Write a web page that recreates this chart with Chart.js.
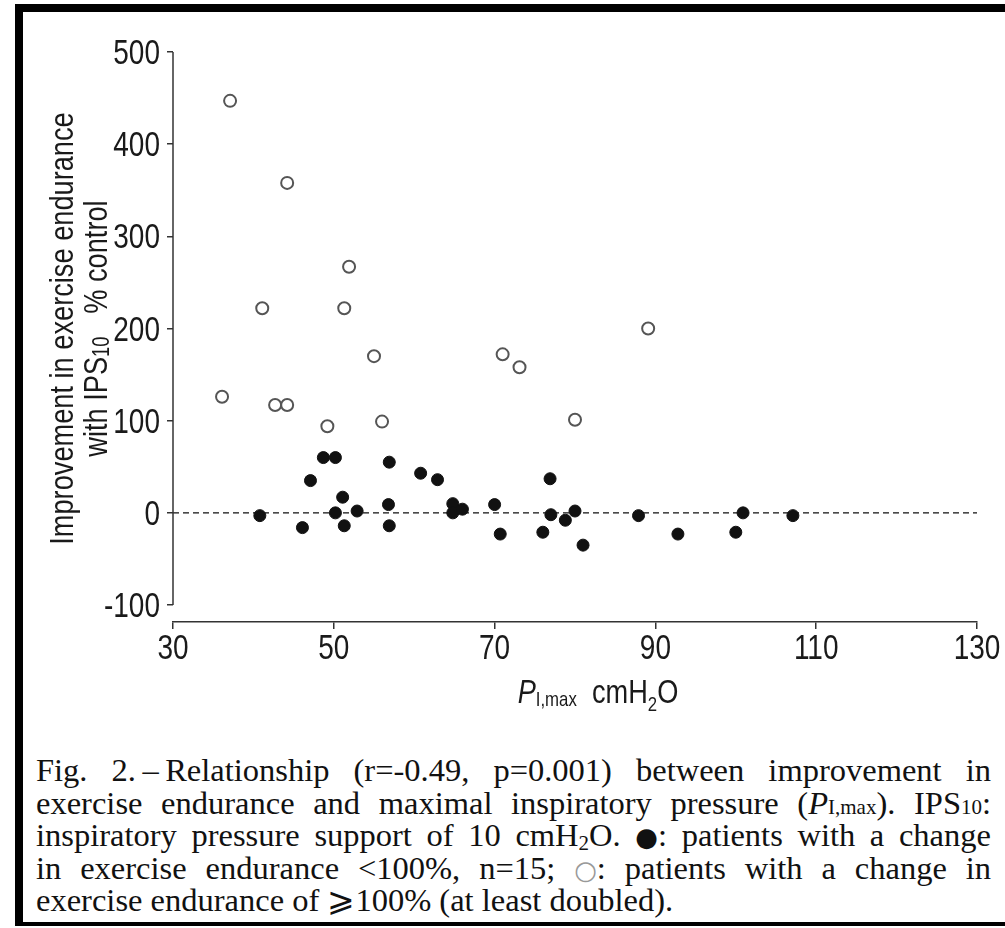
<!DOCTYPE html>
<html>
<head>
<meta charset="utf-8">
<script src="https://cdn.jsdelivr.net/npm/chart.js@4.4.0/dist/chart.umd.min.js"></script>
<style>
  html, body { margin: 0; padding: 0; background: #fff; }
  body { width: 1005px; height: 928px; position: relative; overflow: hidden; }
  .frame {
    position: absolute; left: 15px; top: 4px; width: 1000px; height: 922px;
    border-top: 8px solid #000; border-left: 8px solid #000; border-bottom: 4px solid #000;
    box-sizing: border-box;
  }
  #wrap { position: absolute; left: 0; top: 0; width: 1005px; height: 740px; }
  .caption {
    position: absolute; left: 36px; top: 754px; width: 955px;
    font-family: 'Liberation Serif', 'Times New Roman', serif;
    font-size: 32.5px; color: #111;
  }
  .caption div {
    height: 32.5px; line-height: 32.5px;
    text-align: justify; text-align-last: justify; white-space: nowrap;
  }
  .caption div.last { text-align-last: left; }
  .sm { font-size: 21px; }
  .sub { font-size: 21px; vertical-align: -4px; line-height: 0; }
  .sym { display: inline-block; line-height: 0; }
  .dot { font-family: 'DejaVu Sans', sans-serif; font-size: 26px; }
  .ring { font-family: 'DejaVu Sans', sans-serif; font-size: 26px; color: #999; }
</style>
</head>
<body>
<div class="frame"></div>
<div id="wrap"><canvas id="chart"></canvas></div>
<div class="caption">
  <div>Fig. 2.&thinsp;–&thinsp;Relationship (r=-0.49, p=0.001) between improvement in</div>
  <div>exercise endurance and maximal inspiratory pressure (<i>P</i><span class="sm">I,max</span>). IPS<span class="sm">10</span>:</div>
  <div>inspiratory pressure support of 10 cmH<span class="sub">2</span>O. <span class="sym"><span class="dot">●</span>:</span> patients with a change</div>
  <div>in exercise endurance &lt;100%, n=15; <span class="sym"><span class="ring">○</span>:</span> patients with a change in</div>
  <div class="last">exercise endurance of <span class="sym">⩾</span>100% (at least doubled).</div>
</div>
<script>
// PI,max (cmH2O) and improvement (% control)
const openX = [37.1, 44.2, 51.9, 41.1, 51.3, 55.0, 36.1, 42.7, 44.2, 49.2, 56.0, 71.0, 73.1, 89.1, 80.0];
const openY = [447, 358, 267, 222, 222, 170, 126, 117, 117, 94, 99, 172, 158, 200, 101];

const filledX = [40.8, 46.1, 47.1, 48.7, 50.2, 51.1, 50.2, 51.3, 52.9, 56.9, 56.8, 56.9, 60.8, 62.9, 64.8,
                 64.8, 66.0, 70.0, 70.7, 76.9, 77.0, 76.0, 78.8, 80.0, 81.0, 87.9, 92.8, 100.0, 100.9, 107.1];
const filledY = [-3, -16, 35, 60, 60, 17, 0, -14, 2, 55, 9, -14, 43, 36, 10,
                 0, 4, 9, -23, 37, -2, -21, -8, 2, -35, -3, -23, -21, 0, -3];

const xTicks = [30, 50, 70, 90, 110, 130];
const yTicks = [-100, 0, 100, 200, 300, 400, 500];
const zeroLineX = [30, 130];
const zeroLineY = [0, 0];

// no condensed sans is installed, so Liberation Sans is squeezed sideways
const sans = "'Liberation Sans', Arial, sans-serif";
const squeeze = 0.8;
const axisColor = '#333';
const textColor = '#1a1a1a';

function toPoints(xs, ys) {
  return xs.map((x, i) => ({ x, y: ys[i] }));
}

// text pieces in one row, small ones dropped like subscripts; align 'center' or 'right'
function drawPieces(ctx, pieces, px, baseline, align) {
  ctx.save();
  ctx.translate(px, baseline);
  ctx.scale(squeeze, 1);
  let total = 0;
  pieces.forEach(p => {
    ctx.font = p.font;
    p.w = ctx.measureText(p.text).width;
    total += p.w;
  });
  let x = align === 'right' ? -total : -total / 2;
  ctx.textAlign = 'left';
  pieces.forEach(p => {
    ctx.font = p.font;
    ctx.fillText(p.text, x, p.dy || 0);
    x += p.w;
  });
  ctx.restore();
}

const decor = {
  id: 'decor',
  afterDraw(chart) {
    const { ctx, scales: { x, y }, chartArea } = chart;
    ctx.save();
    // y axis line only between -100 and 500
    ctx.strokeStyle = axisColor;
    ctx.lineWidth = 1.5;
    ctx.beginPath();
    ctx.moveTo(chartArea.left, y.getPixelForValue(500));
    ctx.lineTo(chartArea.left, y.getPixelForValue(-100));
    ctx.stroke();

    ctx.fillStyle = textColor;
    ctx.textBaseline = 'alphabetic';
    const tickFont = `35px ${sans}`;

    // tick labels
    x.ticks.forEach(t => {
      drawPieces(ctx, [{ text: String(t.value), font: tickFont }], x.getPixelForValue(t.value), chartArea.bottom + 37, 'center');
    });
    y.ticks.forEach(t => {
      drawPieces(ctx, [{ text: String(t.value), font: tickFont }], chartArea.left - 13, y.getPixelForValue(t.value) + 12, 'right');
    });

    // x title
    drawPieces(ctx, [
      { text: 'P', font: `italic 34px ${sans}` },
      { text: 'I,max', font: `21px ${sans}`, dy: 3 },
      { text: '  cmH', font: `34px ${sans}` },
      { text: '2', font: `21px ${sans}`, dy: 8 },
      { text: 'O', font: `34px ${sans}` }
    ], 598, 703, 'center');

    // y title, two rotated lines
    const midY = (y.getPixelForValue(500) + y.getPixelForValue(-100)) / 2;
    ctx.translate(0, midY);
    ctx.rotate(-Math.PI / 2);
    drawPieces(ctx, [{ text: 'Improvement in exercise endurance', font: `34px ${sans}` }], 0, 73, 'center');
    drawPieces(ctx, [
      { text: 'with IPS', font: `34px ${sans}` },
      { text: '10', font: `23px ${sans}`, dy: 2 },
      { text: '   % control', font: `34px ${sans}` }
    ], 0, 107, 'center');
    ctx.restore();
  }
};

new Chart(document.getElementById('chart'), {
  type: 'scatter',
  data: {
    datasets: [
      {
        label: 'change <100%',
        data: toPoints(filledX, filledY),
        pointRadius: 6,
        pointHoverRadius: 6,
        backgroundColor: '#111',
        borderColor: '#111',
        borderWidth: 1
      },
      {
        label: 'change >=100%',
        data: toPoints(openX, openY),
        pointRadius: 6,
        pointHoverRadius: 6,
        backgroundColor: '#fff',
        borderColor: '#555',
        borderWidth: 2
      },
      {
        type: 'line',
        label: 'zero',
        data: toPoints(zeroLineX, zeroLineY),
        borderColor: '#111',
        borderWidth: 1.3,
        borderDash: [6, 4],
        pointRadius: 0,
        order: 2
      }
    ]
  },
  options: {
    responsive: true,
    maintainAspectRatio: false,
    animation: false,
    layout: { padding: { top: 52, right: 28, left: 0, bottom: 0 } },
    plugins: {
      legend: { display: false },
      tooltip: { enabled: false }
    },
    scales: {
      x: {
        type: 'linear',
        min: 30,
        max: 130,
        afterBuildTicks: s => { s.ticks = xTicks.map(v => ({ value: v })); },
        afterFit: s => { s.height = 118; },
        grid: { drawOnChartArea: false, drawTicks: true, tickLength: 7, color: axisColor, lineWidth: 1.5 },
        border: { display: true, color: axisColor, width: 1.5 },
        ticks: { display: false }
      },
      y: {
        min: -118.4,
        max: 500,
        afterBuildTicks: s => { s.ticks = yTicks.map(v => ({ value: v })); },
        afterFit: s => { s.width = 173; },
        grid: { drawOnChartArea: false, drawTicks: true, tickLength: 6, color: axisColor, lineWidth: 1.5 },
        border: { display: false },
        ticks: { display: false }
      }
    }
  },
  plugins: [decor]
});
</script>
</body>
</html>
